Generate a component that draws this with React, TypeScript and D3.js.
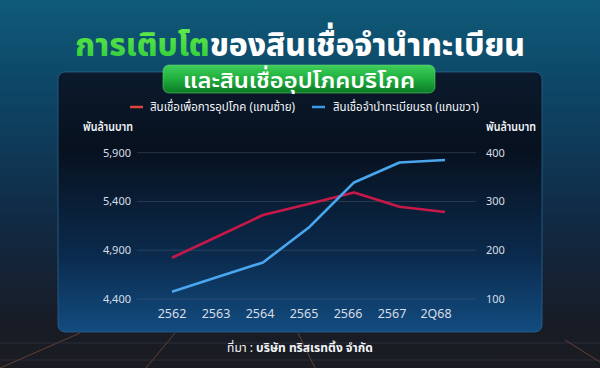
import React from 'react';
import * as d3 from 'd3';

const categories = ['2562', '2563', '2564', '2565', '2566', '2567', '2Q68'];
const consumerLoans = [4823, 5041, 5261, 5375, 5492, 5346, 5292];
const autoTitleLoans = [115, 145, 175, 246, 339, 380, 385];
const leftTicks = [4400, 4900, 5400, 5900];
const rightTicks = [100, 200, 300, 400];

const W = 600;
const H = 368;
const FONT = "'Noto Sans Thai', 'Loma', 'Garuda', 'Sarabun', 'Tahoma', 'Noto Sans', sans-serif";

export default function App() {
  const x = d3.scalePoint<string>().domain(categories).range([172, 445]);
  const xLabel = d3.scalePoint<string>().domain(categories).range([172, 436]);
  const yL = d3.scaleLinear().domain([4400, 5900]).range([299, 152.7]);
  const yR = d3.scaleLinear().domain([100, 400]).range([299, 152.7]);

  const redLine = d3.line<number>()
    .x((_, i) => x(categories[i]) as number)
    .y((d) => yL(d));
  const blueLine = d3.line<number>()
    .x((_, i) => x(categories[i]) as number)
    .y((d) => yR(d));

  const fmt = d3.format(',');

  return (
    <svg width={W} height={H} viewBox={`0 0 ${W} ${H}`}
      style={{ position: 'absolute', left: 0, top: 0, display: 'block' }}
      fontFamily={FONT}>
      <defs>
        <linearGradient id="bg" x1="0" y1="0" x2="0" y2="1">
          <stop offset="0" stopColor="#0f5a78" />
          <stop offset="0.25" stopColor="#0d4566" />
          <stop offset="0.6" stopColor="#112a44" />
          <stop offset="0.88" stopColor="#181c26" />
          <stop offset="1" stopColor="#1b1c22" />
        </linearGradient>
        <linearGradient id="panel" x1="0" y1="0" x2="0" y2="1">
          <stop offset="0" stopColor="#0b1a2c" />
          <stop offset="0.3" stopColor="#07111f" />
          <stop offset="0.7" stopColor="#0b2a4c" />
          <stop offset="1" stopColor="#124c80" />
        </linearGradient>
        <linearGradient id="green" x1="0" y1="0" x2="0" y2="1">
          <stop offset="0" stopColor="#3fcf5a" />
          <stop offset="0.5" stopColor="#1fae3e" />
          <stop offset="1" stopColor="#0c7a26" />
        </linearGradient>
        <linearGradient id="titleGreen" x1="0" y1="0" x2="0" y2="1">
          <stop offset="0" stopColor="#6cf04a" />
          <stop offset="1" stopColor="#22c43a" />
        </linearGradient>
      </defs>

      <rect x={0} y={0} width={W} height={H} fill="url(#bg)" />
      {/* decorative floor lines */}
      <g stroke="#c0704a" strokeOpacity={0.55} strokeWidth={0.8} fill="none">
        <line x1={0} y1={368} x2={80} y2={333} />
        <line x1={146} y1={368} x2={175} y2={333} />
        <line x1={315} y1={368} x2={298} y2={333} />
        <line x1={600} y1={362} x2={565} y2={340} />
      </g>
      <g stroke="#3a4050" strokeOpacity={0.6} strokeWidth={0.8}>
        <line x1={0} y1={343} x2={600} y2={343} />
        <line x1={0} y1={360} x2={600} y2={360} />
      </g>

      {/* panel */}
      <rect x={58} y={72} width={484} height={260} rx={7} fill="url(#panel)"
        stroke="#2d6a94" strokeOpacity={0.7} strokeWidth={1} />

      {/* title */}
      <text x={300} y={56} textAnchor="middle" fontSize={32} fontWeight={800} fill="#ffffff"
        textLength={450} lengthAdjust="spacingAndGlyphs">
        <tspan fill="url(#titleGreen)">การเติบโต</tspan>
        <tspan>ของสินเชื่อจำนำทะเบียน</tspan>
      </text>
      <rect x={163} y={65} width={272} height={28} rx={6} fill="url(#green)"
        stroke="#6de07a" strokeOpacity={0.5} />
      <text x={299} y={88} textAnchor="middle" fontSize={22} fontWeight={600} fill="#ffffff"
        textLength={232} lengthAdjust="spacingAndGlyphs">
        และสินเชื่ออุปโภคบริโภค
      </text>

      {/* legend */}
      <line x1={130} x2={143} y1={107} y2={107} stroke="#e0443c" strokeWidth={2.5} />
      <text x={150} y={111} fontSize={12} fill="#f2f4f8" textLength={145} lengthAdjust="spacingAndGlyphs">สินเชื่อเพื่อการอุปโภค (แกนซ้าย)</text>
      <line x1={312} x2={325} y1={107} y2={107} stroke="#3a9ae8" strokeWidth={2.5} />
      <text x={333} y={111} fontSize={12} fill="#f2f4f8" textLength={146} lengthAdjust="spacingAndGlyphs">สินเชื่อจำนำทะเบียนรถ (แกนขวา)</text>

      {/* axis titles */}
      <text x={83} y={131} fontSize={12} fontWeight={600} fill="#f2f4f8" textLength={50} lengthAdjust="spacingAndGlyphs">พันล้านบาท</text>
      <text x={486} y={131} fontSize={12} fontWeight={600} fill="#f2f4f8" textLength={50} lengthAdjust="spacingAndGlyphs">พันล้านบาท</text>

      {/* grid */}
      <g>
        {leftTicks.map((t) => (
          <line key={t} x1={137} x2={476} y1={yL(t)} y2={yL(t)} stroke="#50627a" strokeOpacity={0.55} strokeWidth={0.8} />
        ))}
      </g>
      <g fontSize={11} fill="#d8dee6">
        {leftTicks.map((t) => (
          <text key={t} x={131} y={yL(t) + 4} textAnchor="end">{fmt(t)}</text>
        ))}
        {rightTicks.map((t) => (
          <text key={t} x={486} y={yR(t) + 4} textAnchor="start">{t}</text>
        ))}
        {categories.map((c) => (
          <text key={c} x={xLabel(c) as number} y={318} textAnchor="middle" fontSize={12.5}>{c}</text>
        ))}
      </g>

      {/* lines */}
      <path d={redLine(consumerLoans) || ''} fill="none" stroke="#c8184a" strokeWidth={2.6} strokeLinejoin="round" />
      <path d={blueLine(autoTitleLoans) || ''} fill="none" stroke="#4aa6ee" strokeWidth={2.6} strokeLinejoin="round" />

      {/* source */}
      <text x={300} y={352} textAnchor="middle" fontSize={12} fill="#f2f4f8">
        <tspan>ที่มา : </tspan>
        <tspan fontWeight={700}>บริษัท ทริสเรทติ้ง จำกัด</tspan>
      </text>
    </svg>
  );
}
